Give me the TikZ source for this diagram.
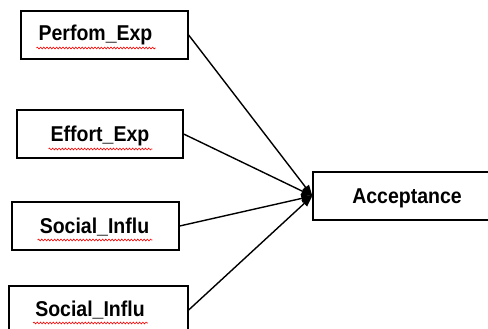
\documentclass[tikz,border=0pt]{standalone}
\usepackage{fontspec}
\setmainfont{Liberation Sans}
\usetikzlibrary{arrows.meta,decorations.pathmorphing}
\tikzset{
	box/.style={draw, line width=1.3pt, minimum height=48pt, inner sep=0pt},
	lbl/.style={font=\fontsize{19.5}{23}\selectfont\bfseries, inner sep=0pt, anchor=base, yscale=1.1},
	squiggle/.style={red, line width=0.6pt, decorate, decoration={snake, amplitude=0.9pt, segment length=3.2pt}},
	link/.style={line width=1.4pt, -{Triangle[length=11pt, width=8pt]}}
}
\begin{document}
\begin{tikzpicture}[x=1pt, y=-1pt]
	\useasboundingbox (0,0) rectangle (488,329);
	\clip (0,0) rectangle (488,329);
	
	\node[box, minimum width=167pt] (perf) at (104.5,35) {};
	\node[box, minimum width=166pt] (eff) at (100,134) {};
	\node[box, minimum width=167pt] (soca) at (95.5,226) {};
	\node[box, minimum width=179pt] (socb) at (98.5,310) {};
	\node[box, minimum width=190pt] (acc) at (408,196) {};
	
	\node[lbl] (perftxt) at (95.5,41) {Perfom\_Exp};
	\node[lbl] (efftxt) at (100,142) {Effort\_Exp};
	\node[lbl] (socatxt) at (94.5,233) {Social\_Influ};
	\node[lbl] (socbtxt) at (90,316) {Social\_Influ};
	\node[lbl] (acctxt) at (407,203) {Acceptance};
	
	% spell-check marks
	\foreach \t in {perftxt, efftxt, socatxt, socbtxt}
		\draw[squiggle] ([shift={(-2,7)}]\t.base west) -- ([shift={(3,7)}]\t.base east);
	
	\draw[link] (perf.east) to (acc.west);
	\draw[link] (eff.east) to (acc.west);
	\draw[link] (soca.east) to (acc.west);
	\draw[link] (socb.east) to (acc.west);
\end{tikzpicture}
\end{document}
